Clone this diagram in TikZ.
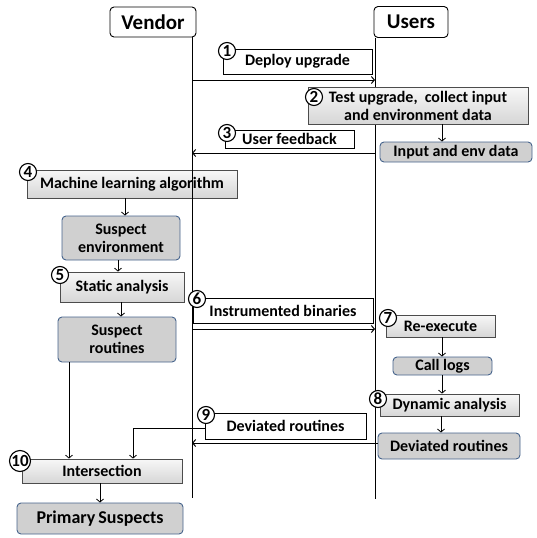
\documentclass[tikz,border=0pt]{standalone}
\usepackage{fontspec}
\setmainfont{Carlito}
\usetikzlibrary{arrows.meta}
\definecolor{databorder}{RGB}{70,100,140}
\definecolor{datafill}{RGB}{208,208,208}

\begin{document}
\begin{tikzpicture}[x=1pt,y=-1pt,
    font=\bfseries\fontsize{16}{18}\selectfont,
    every node/.style={inner sep=0pt, align=center},
    tip/.style={-{Straight Barb[length=3pt,width=7pt]}},
    flow/.style={tip, line width=0.8pt},
    msg/.style={tip, line width=1pt},
    lifeline/.style={line width=1pt},
    actor/.style={draw, rounded corners=4pt, line width=0.9pt,
                  font=\bfseries\fontsize{21}{24}\selectfont},
    action/.style={draw=black!70, line width=0.8pt, top color=gray!6, bottom color=gray!32},
    note/.style={draw, line width=0.8pt, fill=white},
    data/.style={draw=databorder, line width=0.9pt, fill=datafill, rounded corners=4pt},
    num/.style={draw, circle, line width=1.1pt, fill=white, minimum size=17pt,
                font=\bfseries\fontsize{17}{17}\selectfont}]
    \useasboundingbox (0,0) rectangle (537,538);

    % actors
    \node[actor, minimum width=86pt, minimum height=30pt] (vendor) at (153,22) {Vendor};
    \node[actor, minimum width=74pt, minimum height=31pt] (users) at (411,22) {Users};

    % box crossed by the vendor line
    \node[action, minimum width=210pt, minimum height=28pt] (s4) at (132,184) {Machine learning algorithm};

    % lifelines
    \coordinate (vend) at (192,498);
    \coordinate (uend) at (375,499);
    \draw[lifeline] (vendor.south -| vend) -- (vend);
    \draw[lifeline] (users.south -| uend) -- (uend);

    % 1
    \node[note, minimum width=149pt, minimum height=25pt] (l1) at (297.5,61.5) {Deploy upgrade};
    \node[num] (c1) at (227,51) {1};
    \draw[msg] (vend |- 0,80) -- (uend |- 0,80);

    % 2
    \node[action, minimum width=220pt, minimum height=37pt] (s2) at (418,105.5)
        {Test upgrade,\ \ collect input\\[0pt]and environment data};
    \node[num] (c2) at (314,97) {2};
    \node[data, minimum width=152pt, minimum height=20pt] (input) at (456,152) {Input and env data};
    \draw[flow] (s2.south -| 442,0) -- (input.north -| 442,0);

    % 3
    \node[note, minimum width=129pt, minimum height=18pt] (l3) at (289.5,139) {User feedback};
    \node[num] (c3) at (227,133) {3};
    \draw[msg] (uend |- 0,153) -- (vend |- 0,153);

    % 4, 5
    \node[num] (c4) at (28,172) {4};
    \node[data, minimum width=118pt, minimum height=44pt] (env) at (121,238) {Suspect\\[0pt]environment};
    \node[action, minimum width=124pt, minimum height=30pt] (s5) at (122,287) {Static analysis};
    \node[num] (c5) at (60,275) {5};
    \node[data, minimum width=118pt, minimum height=45pt] (routines) at (117,339.5) {Suspect\\[0pt]routines};
    \draw[flow] (s4.south -| 125,0) -- (env.north -| 125,0);
    \draw[flow] (env.south -| 118,0) -- (s5.north -| 118,0);
    \draw[flow] (s5.south -| 121,0) -- (routines.north -| 121,0);

    % 6
    \node[note, minimum width=180pt, minimum height=25pt] (l6) at (283,310.5) {Instrumented binaries};
    \node[num] (c6) at (197,299) {6};
    \draw[msg] (vend |- 0,329) -- (uend |- 0,329);

    % 7, 8
    \node[action, minimum width=109pt, minimum height=22pt] (s7) at (440.5,326) {Re-execute};
    \node[num] (c7) at (388,318) {7};
    \node[data, minimum width=99pt, minimum height=18pt] (logs) at (442.5,366) {Call logs};
    \node[action, minimum width=139pt, minimum height=22pt] (s8) at (449.5,405) {Dynamic analysis};
    \node[num] (c8) at (378,399) {8};
    \node[data, minimum width=142pt, minimum height=26pt] (devu) at (449,446) {Deviated routines};
    \draw[flow] (s7.south -| 442,0) -- (logs.north -| 442,0);
    \draw[flow] (logs.south -| 442,0) -- (s8.north -| 442,0);
    \draw[flow] (s8.south -| 441,0) -- (devu.north -| 441,0);

    % 9
    \draw[msg] (devu.west |- 0,443) -- (vend |- 0,443);
    \node[note, minimum width=161pt, minimum height=26pt] (l9) at (285.5,426) {Deviated routines};
    \node[num] (c9) at (206,415) {9};

    % 10
    \node[action, minimum width=160pt, minimum height=24pt] (s10) at (102,471) {Intersection};
    \node[num, minimum size=21pt] (c10) at (20,461) {10};
    \node[data, minimum width=166pt, minimum height=31pt,
          font=\bfseries\fontsize{18}{20}\selectfont] (primary) at (100,518.5) {Primary\,Suspects};
    \draw[flow] (routines.south -| 69,0) -- (s10.north -| 69,0);
    \draw[flow] (l9.west |- 0,428) -| (s10.north -| 133,0);
    \draw[flow] (s10.south -| 100,0) -- (primary.north -| 100,0);
\end{tikzpicture}
\end{document}
